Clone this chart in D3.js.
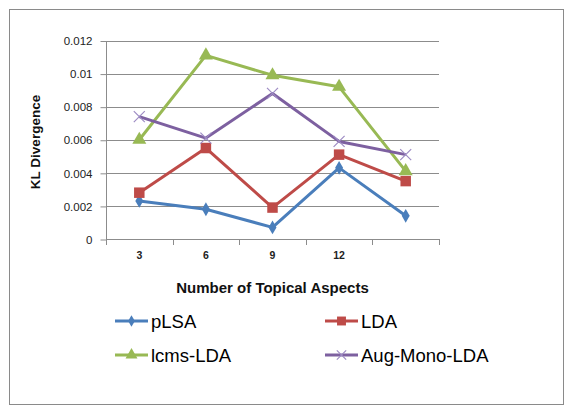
<!DOCTYPE html>
<html><head><meta charset="utf-8">
<script src="https://cdn.jsdelivr.net/npm/d3@7"></script>
<style>
html,body{margin:0;padding:0;background:#fff;}
text{font-family:"Liberation Sans",Arial,sans-serif;}
</style></head>
<body>
<svg id="c" width="565" height="409"></svg>
<script>
const categories = ["3", "6", "9", "12", "15"];
const tickLabels = ["3", "6", "9", "12", ""];
const yTicks = [0, 0.002, 0.004, 0.006, 0.008, 0.01, 0.012];
const yTickLabels = ["0", "0.002", "0.004", "0.006", "0.008", "0.01", "0.012"];
const seriesNames = ["pLSA", "LDA", "lcms-LDA", "Aug-Mono-LDA"];
const pLSA = [0.0023, 0.0018, 0.0007, 0.0043, 0.0014];
const LDA = [0.0028, 0.0055, 0.0019, 0.0051, 0.0035];
const lcmsLDA = [0.0060, 0.0111, 0.0099, 0.0092, 0.0041];
const augMonoLDA = [0.0074, 0.0061, 0.0088, 0.0059, 0.0051];
const colors = ["#4A7EBB", "#BE4B48", "#98B954", "#7D60A0"];
const markers = ["diamond", "square", "triangle", "x"];

const series = [pLSA, LDA, lcmsLDA, augMonoLDA].map((v, i) => ({name: seriesNames[i], values: v, color: colors[i], marker: markers[i]}));

const svg = d3.select("#c");
const L = 106, R = 439, T = 40.5, B = 239;

svg.append("rect").attr("x", 9.5).attr("y", 9.5).attr("width", 554).attr("height", 395)
  .attr("fill", "#fff").attr("stroke", "#8a8a8a").attr("stroke-width", 1);

const x = d3.scaleBand().domain(categories).range([L, R]).padding(0);
const y = d3.scaleLinear().domain([0, 0.012]).range([B, T]);

// gridlines
svg.append("g").selectAll("line").data(yTicks.slice(1)).join("line")
  .attr("x1", L).attr("x2", R)
  .attr("y1", d => Math.round(y(d)) + 0.5).attr("y2", d => Math.round(y(d)) + 0.5)
  .attr("stroke", "#8c8c8c").attr("stroke-width", 1);

// y axis
const yAxis = d3.axisLeft(y).tickValues(yTicks).tickSize(6).tickPadding(8)
  .tickFormat((d, i) => yTickLabels[i]);
const gy = svg.append("g").attr("transform", `translate(${L + 0.5},0.5)`).call(yAxis);
gy.select(".domain").attr("stroke", "#8c8c8c").attr("d", `M0,${T}V${B}`);
gy.selectAll(".tick line").attr("stroke", "#8c8c8c");
gy.selectAll(".tick text").attr("font-size", 11.5).attr("fill", "#222")
  .attr("font-family", "Liberation Sans, Arial, sans-serif");

// x axis
const xAxis = d3.axisBottom(x).tickSize(0).tickPadding(12).tickFormat((d, i) => tickLabels[i]);
const gx = svg.append("g").attr("transform", `translate(0,${B + 0.5})`).call(xAxis);
gx.select(".domain").attr("stroke", "#8c8c8c").attr("d", `M${L},0H${R}`);
gx.selectAll(".tick text").attr("font-size", 10.5).attr("font-weight", "bold").attr("fill", "#222")
  .attr("font-family", "Liberation Sans, Arial, sans-serif");
// band boundary ticks
const bounds = categories.map(c => x(c)).concat([x(categories[categories.length - 1]) + x.bandwidth()]);
svg.append("g").selectAll("line").data(bounds).join("line")
  .attr("x1", d => Math.round(d) + 0.5).attr("x2", d => Math.round(d) + 0.5)
  .attr("y1", B).attr("y2", B + 6).attr("stroke", "#8c8c8c");

// axis titles
svg.append("text").attr("x", (L + R) / 2).attr("y", 293).attr("text-anchor", "middle")
  .attr("font-size", 15).attr("font-weight", "bold").attr("fill", "#111")
  .text("Number of Topical Aspects");
svg.append("text").attr("transform", `translate(40,142) rotate(-90)`).attr("text-anchor", "middle")
  .attr("font-size", 13.5).attr("font-weight", "bold").attr("fill", "#111")
  .text("KL Divergence");

function drawMarker(g, type, color, s) {
  if (type === "diamond") {
    g.append("path").attr("d", d3.symbol(d3.symbolDiamond, 55 * s * s)()).attr("fill", color);
  } else if (type === "square") {
    g.append("path").attr("d", d3.symbol(d3.symbolSquare, 110 * s * s)()).attr("fill", color);
  } else if (type === "triangle") {
    g.append("path").attr("d", d3.symbol(d3.symbolTriangle, 85 * s * s)()).attr("fill", color);
  } else {
    const r = 5.5 * s;
    g.append("path").attr("d", `M${-r},${-r}L${r},${r}M${-r},${r}L${r},${-r}`)
      .attr("stroke", "#9E8CC4").attr("stroke-width", 1.2).attr("fill", "none");
  }
}

const line = d3.line().x((d, i) => x(categories[i]) + x.bandwidth() / 2).y(d => y(d));
series.forEach(s => {
  svg.append("path").datum(s.values).attr("d", line).attr("fill", "none")
    .attr("stroke", s.color).attr("stroke-width", 3).attr("stroke-linejoin", "round");
});
series.forEach(s => {
  s.values.forEach((v, i) => {
    const g = svg.append("g").attr("transform", `translate(${x(categories[i]) + x.bandwidth() / 2},${y(v)})`);
    drawMarker(g, s.marker, s.color, 1);
  });
});

// legend
const legPos = [[115, 321], [325, 321], [115, 355], [325, 355]];
series.forEach((s, i) => {
  const [lx, ly] = legPos[i];
  const g = svg.append("g").attr("transform", `translate(${lx},${ly})`);
  g.append("line").attr("x1", 0).attr("x2", 33).attr("y1", 0).attr("y2", 0)
    .attr("stroke", s.color).attr("stroke-width", 3);
  const m = g.append("g").attr("transform", "translate(16.5,0)");
  drawMarker(m, s.marker, s.color, 0.85);
  g.append("text").attr("x", 36).attr("y", 0).attr("dy", "0.36em")
    .attr("font-size", 18.5).attr("fill", "#000").text(s.name);
});
</script>
</body></html>
